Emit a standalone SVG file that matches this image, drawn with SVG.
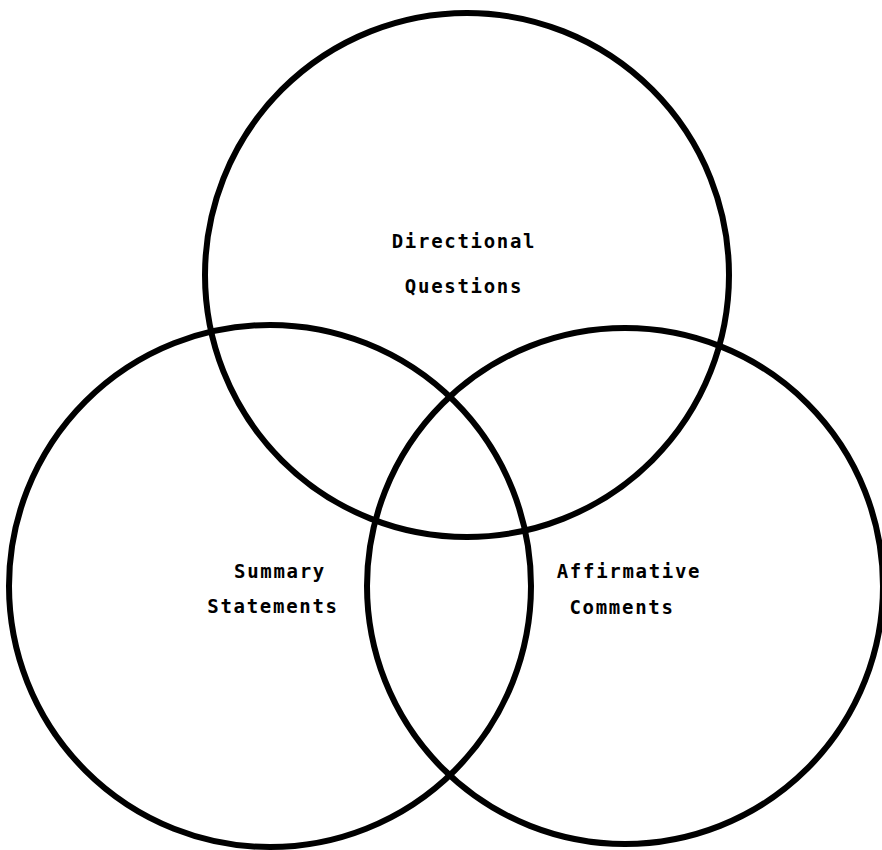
<svg xmlns="http://www.w3.org/2000/svg" width="882" height="850" viewBox="0 0 882 850">
<style>
.c{fill:none;stroke:#000;stroke-width:6}
.t{font-family:"DejaVu Sans Mono","Liberation Mono",monospace;font-weight:bold;font-size:19px;letter-spacing:1.7px;text-anchor:middle;fill:#000}
</style>
<rect width="882" height="850" fill="#fff"/>
<g id="directional-questions">
<circle class="c" cx="467" cy="275" r="262"/>
<text class="t" x="464" y="248">Directional</text>
<text class="t" x="464" y="293">Questions</text>
</g>
<g id="summary-statements">
<circle class="c" cx="270" cy="586" r="261"/>
<text class="t" x="280" y="578">Summary</text>
<text class="t" x="273" y="613">Statements</text>
</g>
<g id="affirmative-comments">
<circle class="c" cx="625" cy="586" r="258"/>
<text class="t" x="629" y="578">Affirmative</text>
<text class="t" x="622" y="614">Comments</text>
</g>
<g id="connectors"></g>
</svg>
